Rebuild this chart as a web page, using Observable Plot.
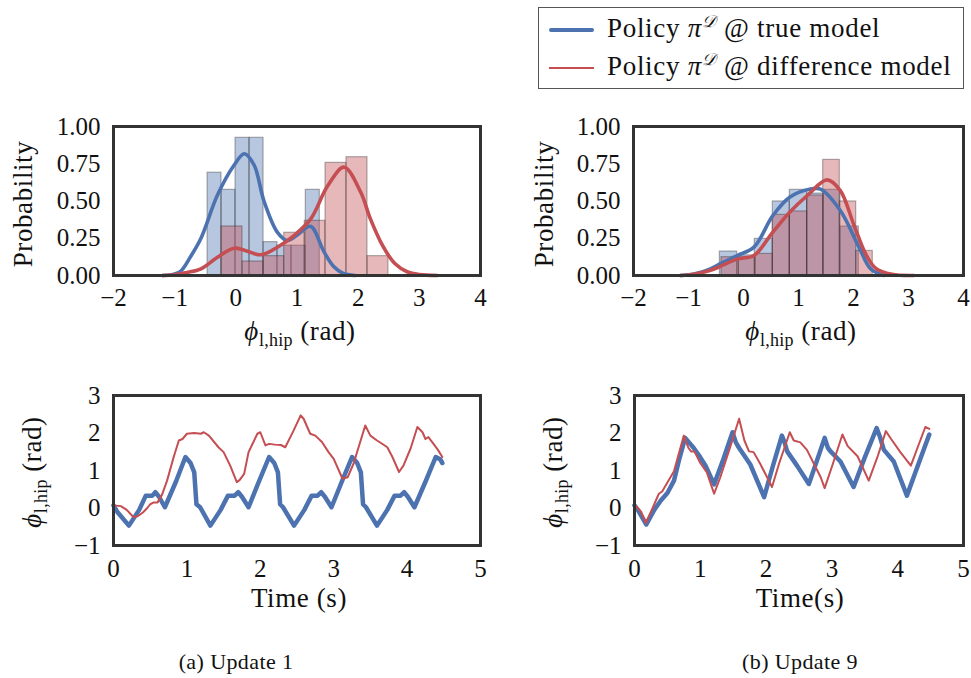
<!DOCTYPE html>
<html>
<head>
<meta charset="utf-8">
<script src="https://cdn.jsdelivr.net/npm/d3@7"></script>
<script src="https://cdn.jsdelivr.net/npm/@observablehq/plot@0.6"></script>
<style>
  html, body { margin: 0; padding: 0; background: #fff; }
  #root { position: relative; width: 971px; height: 678px; overflow: hidden; font-family: "Liberation Serif", serif; color: #111; }
  .panel { position: absolute; }
  .panel svg { overflow: visible; }
  .lbl { position: absolute; white-space: nowrap; font-size: 27px; letter-spacing: 0.6px; transform: translate(-50%, -50%); }
  .lbl.rot { transform: translate(-50%, -50%) rotate(-90deg); }
  .lbl sub { font-size: 18px; vertical-align: -6px; line-height: 0; letter-spacing: 0.3px; }
  #legend { position: absolute; left: 538px; top: 7px; width: 424px; height: 80px; border: 1.5px solid #555; background: #fff; }
  .lrow { position: absolute; left: 0; font-size: 27px; letter-spacing: 0.7px; white-space: nowrap; }
  .lrow .sw { position: absolute; left: 10px; width: 45px; }
  .lrow .tx { position: absolute; left: 68px; top: -17px; }
  .lrow sup { font-size: 17px; vertical-align: 10px; line-height: 0; }
  .cap { position: absolute; font-size: 22px; letter-spacing: 0.4px; transform: translate(-50%, -50%); white-space: nowrap; }
</style>
</head>
<body>
<div id="root">
  <div id="legend">
    <div class="lrow" style="top:22px"><div class="sw" style="height:4px;background:#4c72b0;top:-2px;border-radius:2px"></div><div class="tx">Policy <i>π</i><sup><i>𝒟</i></sup> @ true model</div></div>
    <div class="lrow" style="top:60px"><div class="sw" style="height:2px;background:#c44e52;top:-1px"></div><div class="tx">Policy <i>π</i><sup><i>𝒟</i></sup> @ difference model</div></div>
  </div>
</div>
<script>
// ---------------- DATA ----------------
const colorTrue = "#4c72b0";
const colorDiff = "#c44e52";

// Update 1: histograms (bin edges, probabilities)
const histA_true_edges = [-0.462, -0.234, -0.005, 0.224, 0.453, 0.681, 0.910, 1.144, 1.373];
const histA_true_heights = [0.69, 0.575, 0.924, 0.924, 0.224, 0.2, 0.2, 0.575];
const histA_diff_edges = [-0.234, 0.109, 0.453, 0.791, 1.127, 1.466, 1.809, 2.152, 2.495];
const histA_diff_heights = [0.329, 0.094, 0.13, 0.287, 0.367, 0.756, 0.794, 0.13];

// Update 1: KDE curves
const kdeA_true_x = [-1.2, -1.05, -0.9, -0.75, -0.57, -0.3, -0.03, 0.14, 0.3, 0.46, 0.68, 0.845, 1.0, 1.22, 1.44, 1.6, 1.75, 1.95];
const kdeA_true_y = [0, 0.005, 0.03, 0.12, 0.25, 0.54, 0.74, 0.817, 0.74, 0.5, 0.29, 0.235, 0.27, 0.33, 0.16, 0.06, 0.015, 0];
const kdeA_diff_x = [-1.2, -1.0, -0.8, -0.57, -0.3, -0.03, 0.14, 0.41, 0.68, 0.95, 1.225, 1.5, 1.77, 2.04, 2.2, 2.4, 2.6, 2.8, 3.0, 3.3];
const kdeA_diff_y = [0, 0.005, 0.02, 0.045, 0.123, 0.183, 0.17, 0.139, 0.19, 0.268, 0.38, 0.6, 0.727, 0.56, 0.38, 0.2, 0.08, 0.025, 0.006, 0];

// Update 9: histograms
const histB_true_edges = [-0.43, -0.115, 0.205, 0.533, 0.842, 1.158, 1.46, 1.764, 2.097];
const histB_true_heights = [0.161, 0.135, 0.246, 0.497, 0.575, 0.55, 0.575, 0.329];
const histB_diff_edges = [-0.4, -0.085, 0.218, 0.533, 0.842, 1.158, 1.449, 1.751, 2.049, 2.351];
const histB_diff_heights = [0.123, 0.123, 0.145, 0.407, 0.43, 0.537, 0.776, 0.497, 0.165];

// Update 9: KDE curves
const kdeB_true_x = [-1.15, -0.9, -0.6, -0.43, -0.115, 0.19, 0.53, 0.84, 1.22, 1.4, 1.76, 2.1, 2.31, 2.55];
const kdeB_true_y = [0, 0.01, 0.045, 0.078, 0.134, 0.19, 0.40, 0.525, 0.58, 0.58, 0.436, 0.19, 0.045, 0];
const kdeB_diff_x = [-1.15, -0.9, -0.6, -0.43, -0.115, 0.19, 0.53, 0.84, 1.16, 1.52, 1.76, 2.0, 2.22, 2.4, 2.7, 3.1];
const kdeB_diff_y = [0, 0.008, 0.035, 0.06, 0.11, 0.134, 0.29, 0.425, 0.537, 0.642, 0.57, 0.347, 0.145, 0.05, 0.008, 0];

// Update 1: time series
const timeA_true = [0, 0.05, 0.21, 0.35, 0.44, 0.53, 0.57, 0.62, 0.70, 0.85, 0.98, 1.05, 1.10, 1.13, 1.18, 1.32, 1.46, 1.56, 1.65, 1.70, 1.75, 1.84, 1.98, 2.12, 2.19, 2.24, 2.27, 2.31, 2.46, 2.60, 2.70, 2.78, 2.83, 2.88, 2.97, 3.11, 3.25, 3.32, 3.37, 3.40, 3.44, 3.59, 3.73, 3.83, 3.91, 3.96, 4.01, 4.10, 4.25, 4.39, 4.45, 4.48];
const phiA_true = [0.07, -0.1, -0.47, -0.05, 0.33, 0.33, 0.42, 0.3, 0.02, 0.7, 1.36, 1.2, 0.95, 0.1, 0.02, -0.47, -0.05, 0.33, 0.33, 0.42, 0.3, 0.02, 0.7, 1.36, 1.2, 0.95, 0.1, 0.02, -0.47, -0.05, 0.33, 0.33, 0.42, 0.3, 0.02, 0.7, 1.36, 1.2, 0.95, 0.1, 0.02, -0.47, -0.05, 0.33, 0.33, 0.42, 0.3, 0.02, 0.7, 1.36, 1.3, 1.2];
const timeA_diff = [0, 0.1, 0.18, 0.27, 0.33, 0.4, 0.46, 0.5, 0.55, 0.6, 0.66, 0.73, 0.82, 0.89, 0.94, 1.0, 1.1, 1.19, 1.23, 1.3, 1.43, 1.5, 1.59, 1.68, 1.72, 1.78, 1.84, 1.96, 2.0, 2.07, 2.12, 2.2, 2.28, 2.34, 2.45, 2.55, 2.59, 2.68, 2.75, 2.84, 2.93, 3.0, 3.12, 3.19, 3.27, 3.43, 3.5, 3.59, 3.67, 3.73, 3.8, 3.89, 3.95, 4.05, 4.14, 4.21, 4.25, 4.29, 4.36, 4.42, 4.48];
const phiA_diff = [0.07, 0.05, -0.05, -0.24, -0.22, -0.12, 0.0, 0.1, 0.15, 0.15, 0.35, 0.73, 1.36, 1.8, 1.84, 1.98, 2.0, 1.98, 2.02, 1.93, 1.62, 1.49, 1.13, 0.69, 0.75, 0.91, 1.49, 1.98, 2.02, 1.67, 1.71, 1.69, 1.68, 1.62, 2.05, 2.47, 2.38, 1.98, 1.93, 1.76, 1.49, 1.31, 0.78, 0.82, 1.18, 2.2, 1.93, 1.8, 1.7, 1.62, 1.36, 0.96, 1.13, 1.6, 2.16, 2.02, 1.84, 1.89, 1.71, 1.55, 1.36];

// Update 9: time series
const timeB_true = [0, 0.05, 0.18, 0.3, 0.4, 0.5, 0.6, 0.68, 0.77, 0.9, 1.0, 1.08, 1.21, 1.35, 1.49, 1.54, 1.59, 1.76, 1.97, 2.1, 2.24, 2.28, 2.32, 2.47, 2.65, 2.77, 2.89, 2.94, 2.98, 3.13, 3.33, 3.5, 3.68, 3.73, 3.79, 3.94, 4.14, 4.3, 4.48];
const phiB_true = [0.07, -0.05, -0.44, -0.05, 0.2, 0.4, 0.73, 1.3, 1.87, 1.6, 1.35, 1.13, 0.63, 1.3, 2.02, 1.75, 1.6, 1.16, 0.29, 1.1, 1.93, 1.75, 1.51, 1.13, 0.64, 1.25, 1.87, 1.6, 1.51, 1.24, 0.56, 1.35, 2.13, 1.9, 1.55, 1.24, 0.33, 1.1, 1.96];
const timeB_diff = [0, 0.05, 0.1, 0.17, 0.25, 0.37, 0.42, 0.6, 0.75, 0.82, 0.86, 0.91, 1.0, 1.1, 1.21, 1.3, 1.45, 1.59, 1.67, 1.74, 1.81, 1.91, 2.09, 2.2, 2.36, 2.42, 2.52, 2.62, 2.83, 2.89, 3.0, 3.16, 3.24, 3.39, 3.56, 3.7, 3.82, 3.9, 4.04, 4.2, 4.3, 4.42, 4.48];
const phiB_diff = [0.07, 0.0, -0.1, -0.4, -0.1, 0.38, 0.44, 0.98, 1.93, 1.6, 1.51, 1.51, 1.2, 0.95, 0.38, 0.8, 1.6, 2.38, 1.8, 1.51, 1.49, 1.18, 0.56, 1.2, 2.02, 1.8, 1.75, 1.55, 0.82, 0.53, 1.1, 1.96, 1.65, 1.38, 0.73, 1.4, 2.05, 1.84, 1.49, 1.13, 1.6, 2.16, 2.11];

const histTicksX = [-2, -1, 0, 1, 2, 3, 4];
const histTicksY = [0, 0.25, 0.5, 0.75, 1];
const timeTicksX = [0, 1, 2, 3, 4, 5];
const timeTicksY = [-1, 0, 1, 2, 3];

// ---------------- HELPERS ----------------
const bins = (edges, heights) => heights.map((h, i) => ({x1: edges[i], x2: edges[i + 1], y: h}));
const pts = (xs, ys) => xs.map((x, i) => ({x, y: ys[i]}));
const root = document.getElementById("root");
const baseStyle = {fontFamily: "Liberation Serif, serif", fontSize: "25px", color: "#111", background: "transparent", overflow: "visible"};

function place(el, left, top) {
  const d = document.createElement("div");
  d.className = "panel";
  d.style.left = left + "px";
  d.style.top = top + "px";
  d.appendChild(el);
  root.appendChild(d);
}
function label(html, cx, cy, rot) {
  const d = document.createElement("div");
  d.className = "lbl" + (rot ? " rot" : "");
  d.style.left = cx + "px";
  d.style.top = cy + "px";
  d.innerHTML = html;
  root.appendChild(d);
}
function caption(text, cx, cy) {
  const d = document.createElement("div");
  d.className = "cap";
  d.style.left = cx + "px";
  d.style.top = cy + "px";
  d.textContent = text;
  root.appendChild(d);
}

function histPlot(hTrue, hDiff, kTrue, kDiff, width, mL, mR) {
  const barStyle = {stroke: "#222", strokeOpacity: 0.35, strokeWidth: 1.2, fillOpacity: 0.4};
  return Plot.plot({
    width, height: 240, marginLeft: mL, marginRight: mR, marginTop: 26, marginBottom: 65,
    style: baseStyle,
    x: {domain: [-2, 4], ticks: histTicksX, tickFormat: "d", tickSize: 0, tickPadding: 13, label: null},
    y: {domain: [0, 1], ticks: histTicksY, tickFormat: ".2f", tickSize: 0, tickPadding: 13, label: null},
    marks: [
      Plot.rect(hTrue, {x1: "x1", x2: "x2", y1: 0, y2: "y", fill: colorTrue, ...barStyle}),
      Plot.rect(hDiff, {x1: "x1", x2: "x2", y1: 0, y2: "y", fill: colorDiff, ...barStyle}),
      Plot.line(kTrue, {x: "x", y: "y", stroke: colorTrue, strokeWidth: 3.6, curve: "catmull-rom"}),
      Plot.line(kDiff, {x: "x", y: "y", stroke: colorDiff, strokeWidth: 3.6, curve: "catmull-rom"}),
      Plot.frame({stroke: "#333", strokeWidth: 3})
    ]
  });
}

function timePlot(sTrue, sDiff, width, mL, mR) {
  return Plot.plot({
    width, height: 220, marginLeft: mL, marginRight: mR, marginTop: 25, marginBottom: 45,
    style: baseStyle,
    x: {domain: [0, 5], ticks: timeTicksX, tickFormat: "d", tickSize: 0, tickPadding: 14, label: null},
    y: {domain: [-1, 3], ticks: timeTicksY, tickFormat: "d", tickSize: 0, tickPadding: 13, label: null},
    marks: [
      Plot.line(sTrue, {x: "x", y: "y", stroke: colorTrue, strokeWidth: 4.5, strokeLinejoin: "round"}),
      Plot.line(sDiff, {x: "x", y: "y", stroke: colorDiff, strokeWidth: 2, strokeLinejoin: "round"}),
      Plot.frame({stroke: "#333", strokeWidth: 3})
    ]
  });
}

// ---------------- PANELS ----------------
place(histPlot(bins(histA_true_edges, histA_true_heights), bins(histA_diff_edges, histA_diff_heights),
  pts(kdeA_true_x, kdeA_true_y), pts(kdeA_diff_x, kdeA_diff_y), 500, 113, 20), 0, 100);
place(histPlot(bins(histB_true_edges, histB_true_heights), bins(histB_diff_edges, histB_diff_heights),
  pts(kdeB_true_x, kdeB_true_y), pts(kdeB_diff_x, kdeB_diff_y), 451, 113, 8), 520, 100);
place(timePlot(pts(timeA_true, phiA_true), pts(timeA_diff, phiA_diff), 500, 113, 20), 0, 370);
place(timePlot(pts(timeB_true, phiB_true), pts(timeB_diff, phiB_diff), 451, 114, 8), 520, 370);

const phiLabel = '<i>ϕ</i><sub>l,hip</sub> (rad)';
label("Probability", 23, 204, true);
label("Probability", 544, 204, true);
label(phiLabel, 300, 331, false);
label(phiLabel, 801, 331, false);
label(phiLabel, 32, 472, true);
label(phiLabel, 553, 472, true);
label("Time (s)", 299, 598, false);
label("Time(s)", 800, 598, false);
caption("(a) Update 1", 236, 662);
caption("(b) Update 9", 800, 662);
</script>
</body>
</html>
